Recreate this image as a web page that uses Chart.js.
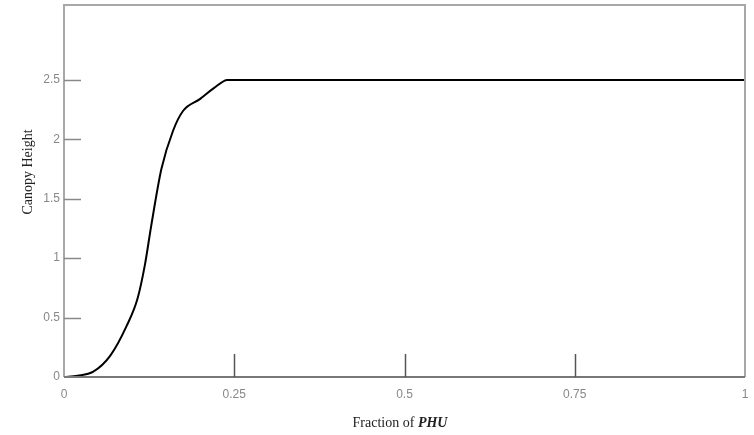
<!DOCTYPE html>
<html lang="en">
<head>
<meta charset="UTF-8">
<title>Canopy Height vs Fraction of PHU</title>
<script src="https://cdn.jsdelivr.net/npm/chart.js"></script>
<style>
    html, body { margin: 0; padding: 0; background: #fff; }
    #wrap { width: 754px; height: 435px; position: relative; }
</style>
</head>
<body>
<div id="wrap"><canvas id="grafico"></canvas></div>
<script>
    // values
    let fracPHU = [0, 0.02, 0.043, 0.068, 0.092, 0.108, 0.119, 0.128, 0.143, 0.16, 0.175, 0.2, 0.22, 0.24, 1];
    let canopyHeight = [0, 0.01, 0.045, 0.18, 0.43, 0.66, 0.95, 1.27, 1.75, 2.07, 2.24, 2.34, 2.43, 2.5, 2.5];
    let xTicks = [0, 0.25, 0.5, 0.75, 1];
    let yTicks = [0, 0.5, 1, 1.5, 2, 2.5];

    // frame, inward ticks and axis titles
    let framePlugin = {
        id: 'frame',
        afterDraw(chart) {
            let c = chart.ctx, a = chart.chartArea;
            let xs = chart.scales.x, ys = chart.scales.y;
            c.save();
            c.lineWidth = 2;
            c.strokeStyle = '#a8a8a8';
            c.beginPath();
            c.moveTo(a.left, a.bottom);
            c.lineTo(a.left, a.top);
            c.lineTo(a.right, a.top);
            c.lineTo(a.right, a.bottom);
            c.stroke();
            c.strokeStyle = '#777';
            c.beginPath();
            c.moveTo(a.left, a.bottom);
            c.lineTo(a.right, a.bottom);
            c.stroke();

            c.lineWidth = 1.5;
            c.strokeStyle = '#888';
            yTicks.forEach(v => {
                if (v === 0) return;
                let py = Math.round(ys.getPixelForValue(v)) + 0.5;
                c.beginPath(); c.moveTo(a.left, py); c.lineTo(a.left + 17, py); c.stroke();
            });
            c.strokeStyle = '#555';
            xTicks.forEach(v => {
                if (v === 0 || v === 1) return;
                let px = Math.round(xs.getPixelForValue(v)) + 0.5;
                c.beginPath(); c.moveTo(px, a.bottom); c.lineTo(px, a.bottom - 23); c.stroke();
            });

            c.fillStyle = '#222';
            c.textBaseline = 'middle';
            let t1 = 'Fraction of ';
            c.font = 'bold italic 14px "Liberation Serif", serif';
            let w2 = c.measureText('PHU').width;
            c.font = '14px "Liberation Serif", serif';
            let w1 = c.measureText(t1).width;
            let x0 = 400 - (w1 + w2) / 2;
            c.textAlign = 'left';
            c.fillText(t1, x0, 423);
            c.font = 'bold italic 14px "Liberation Serif", serif';
            c.fillText('PHU', x0 + w1, 423);

            c.font = '14px "Liberation Serif", serif';
            c.translate(28, 172);
            c.rotate(-Math.PI / 2);
            c.textAlign = 'center';
            c.fillText('Canopy Height', 0, 0);
            c.restore();
        }
    };

    let ctx = document.getElementById('grafico').getContext('2d');
    let chart = new Chart(ctx, {
        type: 'line',
        data: {
            datasets: [{
                data: fracPHU.map((x, i) => ({ x: x, y: canopyHeight[i] })),
                borderColor: '#000',
                borderWidth: 2,
                pointRadius: 0,
                cubicInterpolationMode: 'monotone',
                fill: false
            }]
        },
        options: {
            responsive: true,
            maintainAspectRatio: false,
            animation: false,
            layout: { padding: { top: 5, right: 9, left: 0, bottom: 0 } },
            plugins: { legend: { display: false }, tooltip: { enabled: false } },
            scales: {
                x: {
                    type: 'linear',
                    min: 0, max: 1,
                    afterBuildTicks: s => { s.ticks = xTicks.map(v => ({ value: v })); },
                    afterFit: s => { s.height = 58; s.paddingLeft = 0; s.paddingRight = 0; },
                    grid: { display: false, drawTicks: false },
                    border: { display: false },
                    ticks: {
                        padding: 10,
                        color: '#888',
                        maxRotation: 0,
                        callback: v => String(v),
                        font: { family: '"Liberation Sans", sans-serif', size: 12 }
                    }
                },
                y: {
                    min: 0, max: 3.13,
                    afterBuildTicks: s => { s.ticks = yTicks.map(v => ({ value: v })); },
                    afterFit: s => { s.width = 64; s.paddingTop = 0; s.paddingBottom = 0; },
                    grid: { display: false, drawTicks: false },
                    border: { display: false },
                    ticks: {
                        padding: 4,
                        color: '#888',
                        callback: v => String(v),
                        font: { family: '"Liberation Sans", sans-serif', size: 12 }
                    }
                }
            }
        },
        plugins: [framePlugin]
    });
</script>
</body>
</html>
